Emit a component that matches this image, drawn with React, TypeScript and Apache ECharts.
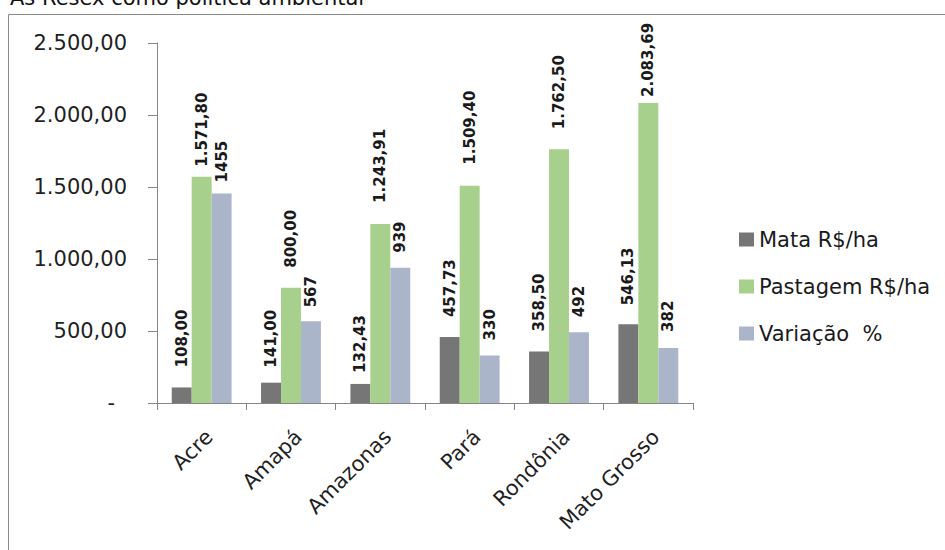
import React, { useEffect, useRef } from "react";
import * as echarts from "echarts";

// Values per state (R$/ha and % change)
const categories = ["Acre", "Amapá", "Amazonas", "Pará", "Rondônia", "Mato Grosso"];
const mata = [108.0, 141.0, 132.43, 457.73, 358.5, 546.13];
const pastagem = [1571.8, 800.0, 1243.91, 1509.4, 1762.5, 2083.69];
const variacao = [1455, 567, 939, 330, 492, 382];
const seriesNames = ["Mata R$/ha", "Pastagem R$/ha", "Variação  %"];
const yTicks = { min: 0, max: 2500, interval: 500 };

// Gap in px between each bar top and its rotated value label
const mataLabelGap = [20, 15, 11, 20, 20, 19];
const pastagemLabelGap = [10, 20, 21, 21, 20, 6];
const variacaoLabelGap = [11, 14, 15, 15, 15, 16];

const FONT = "DejaVu Sans";

// Brazilian number format: "." for thousands, "," for decimals
const fmtBR = (v: number, decimals: number) => {
  const fixed = v.toFixed(decimals);
  const [intPart, dec] = fixed.split(".");
  const withDots = intPart.replace(/\B(?=(\d{3})+(?!\d))/g, ".");
  return dec !== undefined ? `${withDots},${dec}` : withDots;
};

const fmtPlain = (v: number) => String(Math.round(v));

const makeSeries = (
  name: string,
  values: number[],
  gaps: number[],
  color: string,
  format: (v: number) => string
) => ({
  name,
  type: "bar",
  barGap: "0%",
  barCategoryGap: "33%",
  itemStyle: { color },
  data: values.map((v, i) => ({
    value: v,
    label: { distance: gaps[i] },
  })),
  label: {
    show: true,
    position: "top",
    rotate: 90,
    align: "left",
    verticalAlign: "middle",
    fontFamily: FONT,
    fontWeight: "bold",
    fontSize: 15,
    color: "#1a1a1a",
    formatter: (p: any) => format(p.value),
  },
});

export default function App() {
  const ref = useRef<HTMLDivElement>(null);

  useEffect(() => {
    if (!ref.current) return;
    const chart = echarts.init(ref.current, undefined, { renderer: "svg" });
    chart.setOption({
      animation: false,
      backgroundColor: "#ffffff",
      textStyle: { fontFamily: FONT },
      graphic: [
        {
          type: "rect",
          shape: { x: 8.5, y: 14.5, width: 1000, height: 600 },
          style: { fill: "none", stroke: "#8a8a8a", lineWidth: 1 },
          silent: true,
        },
        {
          type: "text",
          x: 10,
          y: -2,
          style: {
            text: "As Resex como política ambiental",
            fontFamily: FONT,
            fontSize: 21,
            fill: "#111111",
            align: "left",
            verticalAlign: "middle",
          },
        },
      ],
      grid: { left: 157, top: 43, right: 252, bottom: 147, containLabel: false },
      legend: {
        orient: "vertical",
        left: 734,
        top: 224,
        itemWidth: 15,
        itemHeight: 14,
        itemGap: 26,
        icon: "rect",
        textStyle: { fontFamily: FONT, fontSize: 21, color: "#1a1a1a" },
        data: seriesNames,
      },
      xAxis: {
        type: "category",
        data: categories,
        axisLine: { lineStyle: { color: "#868686", width: 1 } },
        axisTick: { show: true, length: 7, lineStyle: { color: "#868686" } },
        axisLabel: {
          rotate: 45,
          margin: 23,
          interval: 0,
          verticalAlign: "top",
          fontFamily: FONT,
          fontSize: 21,
          color: "#1f1f1f",
        },
      },
      yAxis: {
        type: "value",
        min: yTicks.min,
        max: yTicks.max,
        interval: yTicks.interval,
        splitLine: { show: false },
        axisLine: { show: true, lineStyle: { color: "#868686", width: 1 } },
        axisTick: { show: true, length: 9, lineStyle: { color: "#868686" } },
        axisLabel: {
          margin: 30,
          fontFamily: FONT,
          fontSize: 21,
          color: "#1f1f1f",
          formatter: (v: number) => (v === 0 ? "{z|-}" : fmtBR(v, 2)),
          rich: {
            z: { fontFamily: FONT, fontSize: 21, color: "#1f1f1f", padding: [0, 12, 0, 0] },
          },
        },
      },
      series: [
        makeSeries(seriesNames[0], mata, mataLabelGap, "#767676", (v) => fmtBR(v, 2)),
        makeSeries(seriesNames[1], pastagem, pastagemLabelGap, "#a8d08d", (v) => fmtBR(v, 2)),
        makeSeries(seriesNames[2], variacao, variacaoLabelGap, "#abb5ca", fmtPlain),
      ],
    });
    return () => chart.dispose();
  }, []);

  return (
    <div
      ref={ref}
      style={{ position: "fixed", left: 0, top: 0, width: 945, height: 550 }}
    />
  );
}
